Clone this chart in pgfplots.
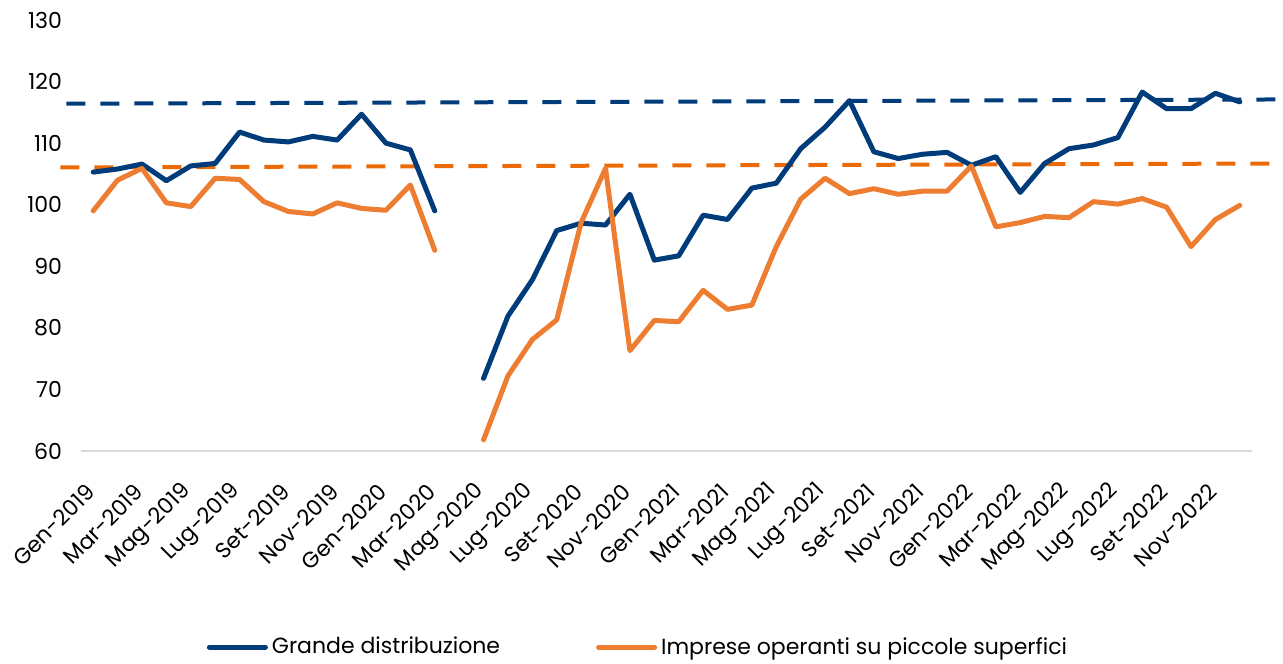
\documentclass[border=0pt]{standalone}
\usepackage{pgfplots}
\pgfplotsset{compat=1.18}
\usepackage{fontspec}
\setmainfont{Poppins}
\definecolor{navy}{HTML}{003B7A}
\definecolor{orangeline}{HTML}{ED7D31}
\definecolor{orangedash}{HTML}{EA6A08}
\definecolor{baseline}{HTML}{D9D9D9}

\begin{document}
\begin{tikzpicture}
\useasboundingbox (0,0) rectangle (641.5pt,331.5pt);
\begin{axis}[
    at={(40.5pt,106pt)}, anchor=south west,
    scale only axis, width=585.5pt, height=215.5pt,
    xmin=-0.5, xmax=47.5, ymin=60, ymax=130,
    ytick={60,70,...,130},
    xtick={0,2,...,46},
    xticklabels={
        Gen-2019,Mar-2019,Mag-2019,Lug-2019,Set-2019,Nov-2019,
        Gen-2020,Mar-2020,Mag-2020,Lug-2020,Set-2020,Nov-2020,
        Gen-2021,Mar-2021,Mag-2021,Lug-2021,Set-2021,Nov-2021,
        Gen-2022,Mar-2022,Mag-2022,Lug-2022,Set-2022,Nov-2022
    },
    axis x line*=bottom, axis y line*=left,
    x axis line style={draw=baseline, line width=0.8pt},
    y axis line style={draw=none},
    major tick length=0pt,
    tick label style={font=\fontsize{11}{13}\selectfont},
    /pgf/number format/assume math mode=true,
    yticklabel style={anchor=east, xshift=-6pt},
    xticklabel style={xshift=1pt, yshift=-16pt, rotate=45, anchor=east},
    clip=false,
    unbounded coords=jump,
    legend columns=2,
    legend style={at={(0.4765,-0.455)}, anchor=center, draw=none,
        font=\fontsize{11}{13}\selectfont,
        /tikz/every even column/.append style={column sep=46pt}},
    legend image code/.code={\draw[#1, line width=2.5pt, line cap=round] (0pt,0pt) -- (28pt,0pt);},
    every axis plot/.append style={line join=round, line cap=round},
]
% reference lines
\addplot[forget plot, navy, line width=2pt, dash pattern=on 9.5pt off 7.5pt, line cap=butt]
    coordinates {(-1.1,116.4) (48.8,117.1)};
\addplot[forget plot, orangedash, line width=2pt, dash pattern=on 9.5pt off 7.5pt, line cap=butt]
    coordinates {(-1.35,106.05) (48.8,106.7)};

\addplot[navy, line width=2.5pt] coordinates {
    (0,105.3) (1,105.8) (2,106.6) (3,103.9) (4,106.3) (5,106.7)
    (6,111.8) (7,110.5) (8,110.2) (9,111.1) (10,110.5) (11,114.7)
    (12,110.0) (13,108.9) (14,99.0) (15,nan) (16,71.8) (17,81.9)
    (18,87.8) (19,95.8) (20,97.0) (21,96.7) (22,101.7) (23,91.0)
    (24,91.7) (25,98.3) (26,97.6) (27,102.7) (28,103.5) (29,109.1)
    (30,112.6) (31,116.9) (32,108.6) (33,107.5) (34,108.2) (35,108.5)
    (36,106.4) (37,107.8) (38,102.0) (39,106.7) (40,109.1) (41,109.7)
    (42,110.9) (43,118.3) (44,115.6) (45,115.6) (46,118.1) (47,116.7)
};
\addplot[orangeline, line width=2.5pt] coordinates {
    (0,99.0) (1,104.0) (2,105.9) (3,100.3) (4,99.7) (5,104.3)
    (6,104.1) (7,100.5) (8,98.9) (9,98.5) (10,100.3) (11,99.4)
    (12,99.1) (13,103.2) (14,92.6) (15,nan) (16,61.8) (17,72.2)
    (18,78.1) (19,81.3) (20,97.1) (21,105.9) (22,76.3) (23,81.2)
    (24,81.0) (25,86.1) (26,83.0) (27,83.7) (28,93.2) (29,100.9)
    (30,104.3) (31,101.8) (32,102.6) (33,101.7) (34,102.2) (35,102.2)
    (36,106.3) (37,96.4) (38,97.1) (39,98.1) (40,97.9) (41,100.5)
    (42,100.1) (43,101.0) (44,99.6) (45,93.2) (46,97.6) (47,99.9)
};
\legend{Grande distribuzione, Imprese operanti su piccole superfici}
\end{axis}
\end{tikzpicture}
\end{document}
